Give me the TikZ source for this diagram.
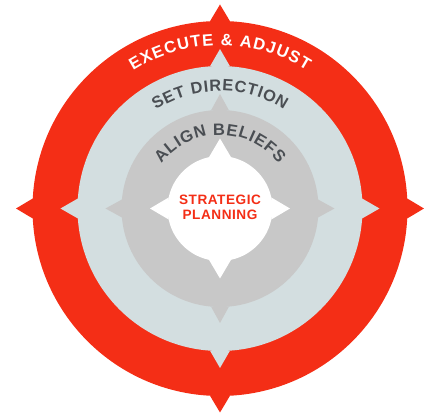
\documentclass[tikz,border=0pt]{standalone}
\usepackage{fontspec}
\setmainfont{Liberation Sans}
\definecolor{ringred}{HTML}{F42E16}
\definecolor{ringblue}{HTML}{D3DEE0}
\definecolor{ringgray}{HTML}{C8C8C8}
\definecolor{txtgray}{HTML}{4A4E53}
\newdimen\arcchw
\newcommand\measurech[1]{%
  \pgfinterruptpicture\setbox0=\hbox{#1}\global\arcchw=\wd0\relax\endpgfinterruptpicture}
% #1 name prefix, #2 baseline radius, #3 tracking, #4 font, #5 centre angle, #6 characters
\newcommand\arctext[6]{%
  \gdef\arctot{0}%
  \foreach \arcch in {#6}{%
    \measurech{#4\arcch}%
    \pgfmathparse{\arctot+\arcchw+#3}\xdef\arctot{\pgfmathresult}%
  }%
  \pgfmathparse{#5+(\arctot-#3)/2/#2*180/pi}\xdef\arcang{\pgfmathresult}%
  \gdef\arcpos{0}%
  \foreach \arcch [count=\arci] in {#6}{%
    \measurech{#4\arcch}%
    \pgfmathparse{\arcang-(\arcpos+\arcchw/2)/#2*180/pi}\let\arca\pgfmathresult
    \pgfmathparse{\arcpos+\arcchw+#3}\xdef\arcpos{\pgfmathresult}%
    \node[name=#1-\arci, arcletter, rotate=\arca-90] at (\arca:#2) {#4\arcch};
  }%
}
% #1 colour, #2 circle radius, #3 spike tip radius, #4 spike half width
\newcommand\spikedring[4]{%
  \fill[#1] (0,0) circle (#2);
  \pgfmathsetmacro\sbase{#2*sqrt(1-(#4/#2)*(#4/#2))}%
  \foreach \sang in {0,90,180,270}{%
    \fill[#1, rotate=\sang] (\sbase,#4) -- (#3,0) -- (\sbase,-#4) -- cycle;
  }%
}
\tikzset{
  arcletter/.style={anchor=base, inner sep=0pt, outer sep=0pt},
  centretext/.style={anchor=base, inner sep=0pt, text=ringred,
    font=\fontsize{13.6}{14}\selectfont\bfseries\addfontfeature{LetterSpace=4}},
}
\begin{document}
\begin{tikzpicture}[x=1pt,y=1pt]
\useasboundingbox (-220,-208.5) rectangle (212,208.5);
\spikedring{ringred}{187.5}{204}{10}
\spikedring{ringblue}{142.5}{159.5}{10}
\spikedring{ringgray}{98.5}{114.5}{9}
\spikedring{white}{52.5}{70}{11}
\arctext{ex}{163}{1.2}{\fontsize{16.5}{17}\selectfont\bfseries\color{white}}{90}{E,X,E,C,U,T,E,\ ,\&,\ ,A,D,J,U,S,T}
\arctext{sd}{117.5}{0.8}{\fontsize{16.3}{17}\selectfont\bfseries\color{txtgray}}{90}{S,E,T,\ ,D,I,R,E,C,T,I,O,N}
\arctext{ab}{73.5}{0.8}{\fontsize{16.5}{17}\selectfont\bfseries\color{txtgray}}{90}{A,L,I,G,N,\ ,B,E,L,I,E,F,S}
\node[centretext] (sp1) at (0,3.5) {STRATEGIC};
\node[centretext] (sp2) at (0,-11.5) {PLANNING};
\end{tikzpicture}
\end{document}
